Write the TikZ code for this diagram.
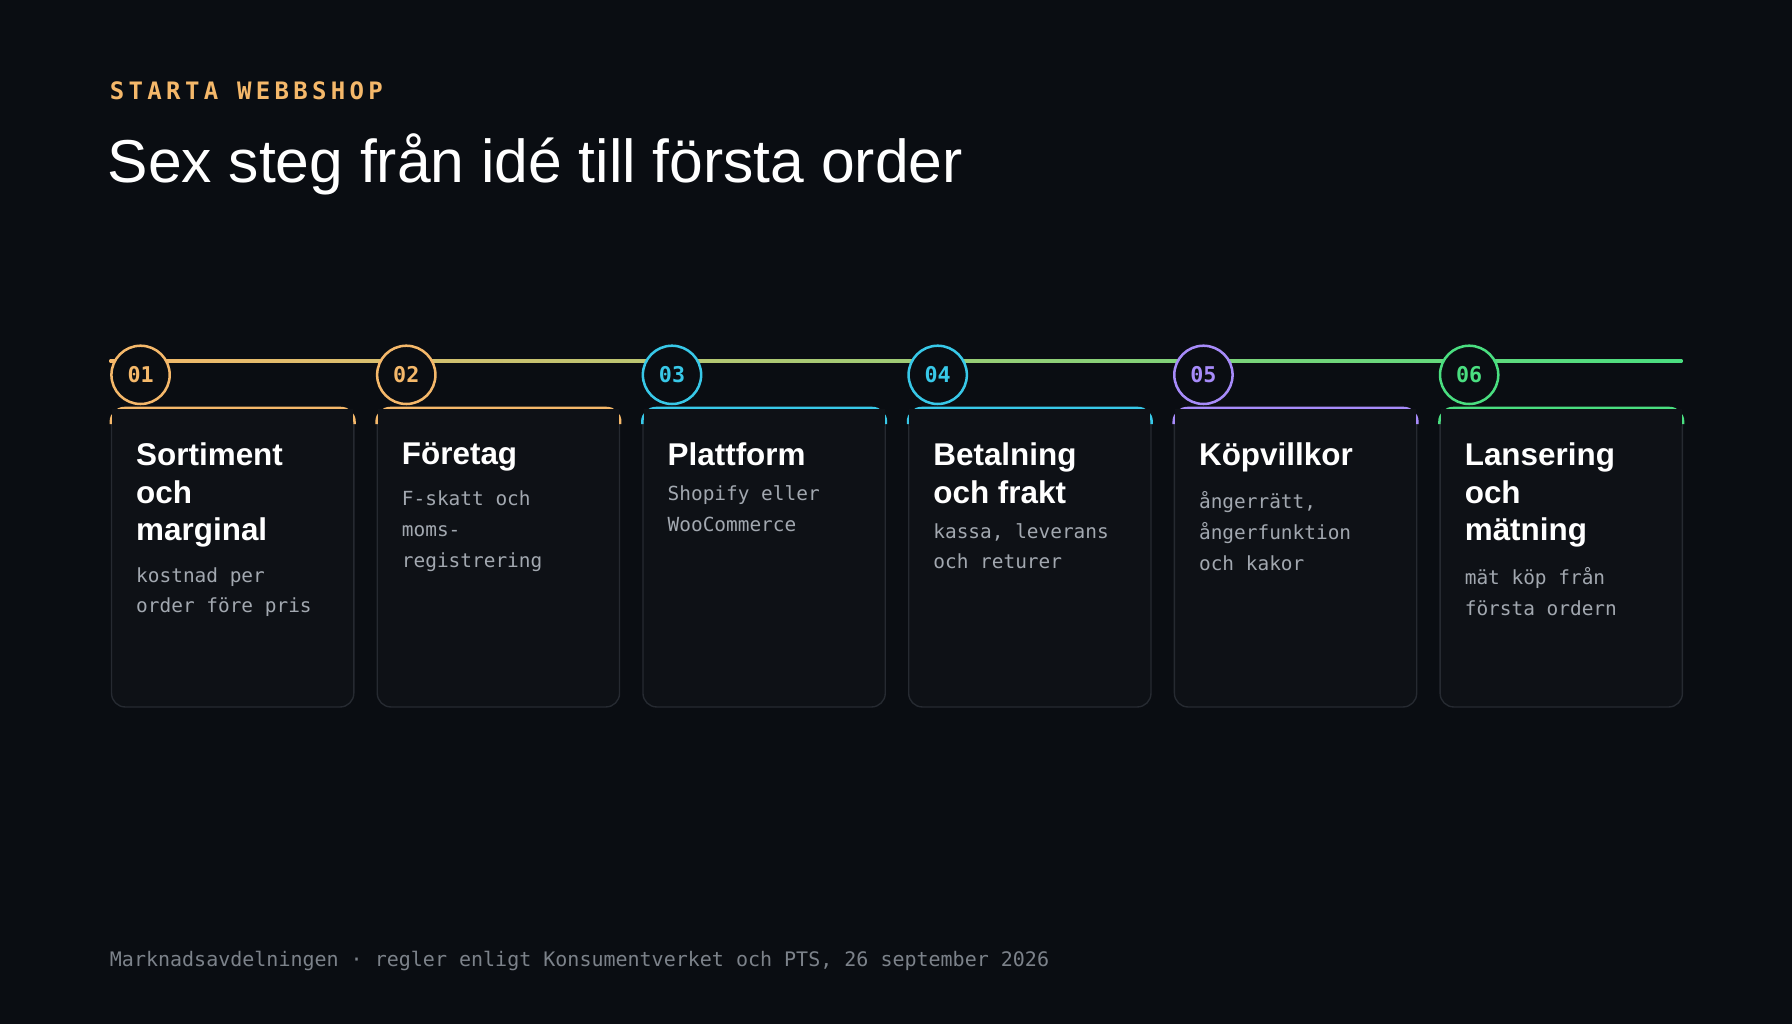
\documentclass[tikz,border=0pt]{standalone}
\usepackage{fontspec}
\setmainfont{Liberation Sans}
\newfontfamily\monof{DejaVu Sans Mono}
\newfontfamily\monosp[LetterSpace=18]{DejaVu Sans Mono}
\usetikzlibrary{positioning}
\definecolor{bgcol}{HTML}{0A0D12}
\definecolor{cardcol}{HTML}{0E1116}
\definecolor{edgecol}{HTML}{262A31}
\definecolor{ora}{HTML}{F5B86A}
\definecolor{cya}{HTML}{38C8E8}
\definecolor{pur}{HTML}{A78BFA}
\definecolor{gre}{HTML}{4ADE80}
\definecolor{desccol}{HTML}{A2A8B0}
\definecolor{footcol}{HTML}{7C828A}
\tikzset{
  card/.style={draw=edgecol, line width=1.2pt, fill=cardcol, rounded corners=12pt,
    minimum width=212pt, minimum height=261pt, inner sep=0pt},
  step/.style={circle, draw=#1, line width=2.2pt, fill=bgcol, minimum size=51pt,
    inner sep=0pt, text=#1, font=\monof\bfseries\fontsize{19}{19}\selectfont},
  head/.style={anchor=north west, inner sep=0pt, text=white, align=left,
    font=\bfseries\fontsize{27.5}{33}\selectfont},
  desc/.style={anchor=north west, inner sep=0pt, text=desccol, align=left,
    font=\monof\fontsize{17}{27}\selectfont}
}
\begin{document}
\begin{tikzpicture}[x=1pt,y=-1pt]
  % background
  \fill[bgcol] (0,0) rectangle (1568,896);
  \useasboundingbox (0,0) rectangle (1568,896);

  % header
  \node[anchor=base west, inner sep=0pt, text=ora,
    font=\monosp\bfseries\fontsize{21}{21}\selectfont] (kicker) at (96,87) {STARTA WEBBSHOP};
  \node[anchor=base west, inner sep=0pt, text=white,
    font=\fontsize{53}{60}\selectfont] (title) at (94,160) {Sex steg från idé till första order};

  % timeline
  \shade[left color=ora, right color=gre] (96,314.5) rectangle (1472,317.5);

  % cards
  \foreach \i/\col/\num/\hd/\ds in {
    1/ora/01/{Sortiment\\och\\marginal}/{kostnad per\\order före pris},
    2/ora/02/{Företag}/{F-skatt och\\moms-\\registrering},
    3/cya/03/{Plattform}/{Shopify eller\\WooCommerce},
    4/cya/04/{Betalning\\och frakt}/{kassa, leverans\\och returer},
    5/pur/05/{Köpvillkor}/{ångerrätt,\\ångerfunktion\\och kakor},
    6/gre/06/{Lansering\\och\\mätning}/{mät köp från\\första ordern}} {
    \pgfmathsetmacro{\xl}{97+232.5*(\i-1)}
    \node[card, anchor=north west] (c\i) at (\xl,357) {};
    \draw[\col, line width=2.2pt, rounded corners=12pt]
      ([yshift=-14pt]c\i.north west) -- (c\i.north west) -- (c\i.north east) -- ([yshift=-14pt]c\i.north east);
    \fill[cardcol] ([xshift=1.1pt,yshift=-1.1pt]c\i.north west) rectangle ([xshift=-1.1pt,yshift=-16pt]c\i.north east);
    \node[step=\col] (n\i) at (\xl+26,328) {\num};
    \node[head] (h\i) at (\xl+22,387) {\hd};
    \node[desc] (d\i) at ([yshift=-17pt]h\i.south west) {\ds};
  }

  % footer
  \node[anchor=base west, inner sep=0pt, text=footcol,
    font=\monof\fontsize{17.5}{20}\selectfont] (foot) at (96,846)
    {Marknadsavdelningen · regler enligt Konsumentverket och PTS, 26 september 2026};
\end{tikzpicture}
\end{document}
